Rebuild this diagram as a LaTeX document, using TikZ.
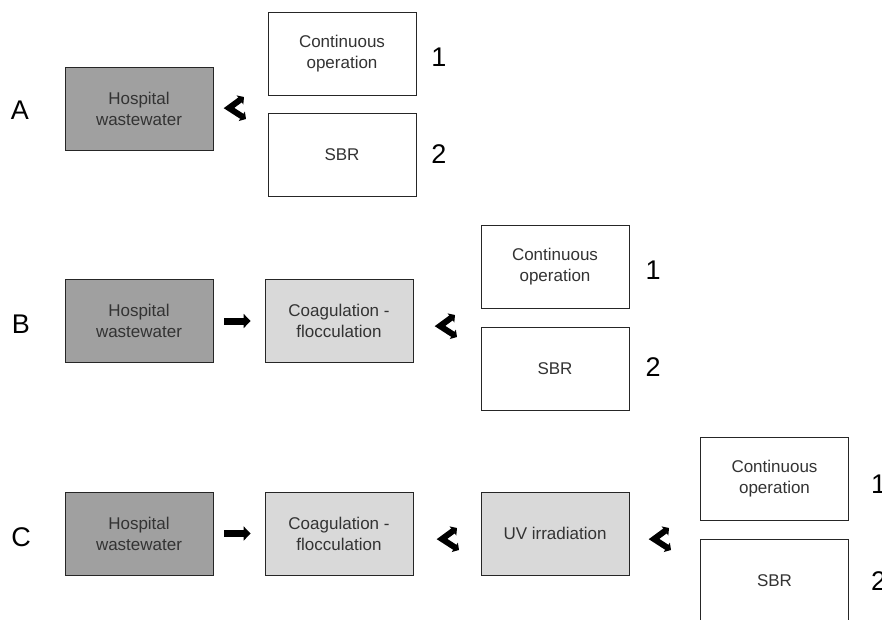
\documentclass[tikz,border=0pt]{standalone}
\usepackage{fontspec}
\setmainfont{Liberation Sans}
\usetikzlibrary{arrows.meta,positioning,calc}
\definecolor{hwgray}{HTML}{A0A0A0}
\definecolor{stagegray}{HTML}{D9D9D9}
\definecolor{boxink}{HTML}{333333}

\begin{document}
\begin{tikzpicture}[
    x=1pt, y=-1pt,
    unit/.style={
        draw=black!85,
        line width=0.8pt,
        minimum width=148pt,
        minimum height=83pt,
        inner sep=0pt,
        align=center,
        font=\fontsize{17}{21}\selectfont,
        text=boxink
    },
    source/.style={unit, fill=hwgray},
    stage/.style={unit, fill=stagegray},
    option/.style={unit, fill=white},
    rowlabel/.style={
        inner sep=0pt,
        font=\fontsize{27}{30}\selectfont
    },
    flow/.style={
        -{Triangle[width=14pt,length=7pt]},
        line width=7pt,
        shorten <=11pt,
        shorten >=14pt
    },
    merge/.style={
        {Triangle[width=11pt,length=5pt]}-{Triangle[width=11pt,length=5pt]},
        line width=6pt,
        line join=miter
    }
]
\useasboundingbox (0,0) rectangle (882,619);
\clip (0,0) rectangle (882,619);

% row A
\node[rowlabel] (lA) at (20,110) {A};
\node[source] (hwA) at (139,108.5) {Hospital\\wastewater};
\node[option] (coA) at (342,53.5) {Continuous\\operation};
\node[option] (sbA) at (342,154.5) {SBR};
\node[rowlabel] (nA1) at (439,57) {1};
\node[rowlabel] (nA2) at (439,154) {2};
\coordinate (mA) at (229,108);
\draw[merge] ($(mA)+(15,-11)$) -- (mA) -- ($(mA)+(17,11)$);

% row B
\node[rowlabel] (lB) at (21,324) {B};
\node[source] (hwB) at (139,321) {Hospital\\wastewater};
\node[stage] (cfB) at (339,321) {Coagulation -\\flocculation};
\node[option] (coB) at (555,266.5) {Continuous\\operation};
\node[option] (sbB) at (555,368.5) {SBR};
\node[rowlabel] (nB1) at (653,270) {1};
\node[rowlabel] (nB2) at (653,367) {2};
\draw[flow] (hwB) -- (cfB);
\coordinate (mB) at (440,326);
\draw[merge] ($(mB)+(15,-11)$) -- (mB) -- ($(mB)+(17,11)$);

% row C
\node[rowlabel] (lC) at (21,537) {C};
\node[source] (hwC) at (139,533.5) {Hospital\\wastewater};
\node[stage] (cfC) at (339,533.5) {Coagulation -\\flocculation};
\node[stage] (uvC) at (555,533.5) {UV irradiation};
\node[option] (coC) at (774.5,479) {Continuous\\operation};
\node[option] (sbC) at (774.5,580.5) {SBR};
\node[rowlabel, anchor=west] (nC1) at (871,484) {1};
\node[rowlabel, anchor=west] (nC2) at (871,581) {2};
\draw[flow] (hwC) -- (cfC);
\coordinate (mC1) at (442,539);
\draw[merge] ($(mC1)+(15,-11)$) -- (mC1) -- ($(mC1)+(17,11)$);
\coordinate (mC2) at (654,539);
\draw[merge] ($(mC2)+(15,-11)$) -- (mC2) -- ($(mC2)+(17,11)$);

\end{tikzpicture}
\end{document}
